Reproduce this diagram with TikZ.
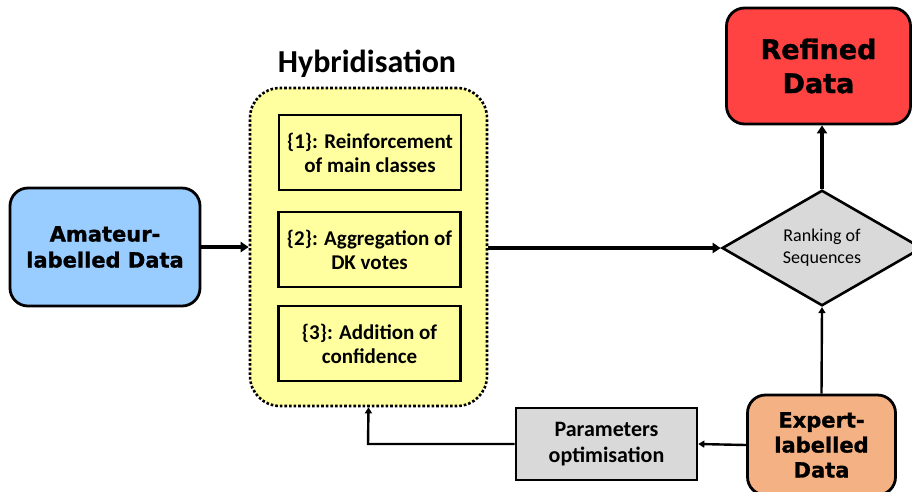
\documentclass[tikz,border=0pt]{standalone}
\usepackage{fontspec}
\setmainfont{Carlito}
\newfontfamily\heavyfont{DejaVu Sans}[BoldFont={DejaVu Sans Bold}, BoldFeatures={FakeBold=1.2}]
\usetikzlibrary{shapes.geometric,arrows.meta}
\definecolor{amablue}{HTML}{99CCFF}
\definecolor{hybyellow}{HTML}{FFFF9F}
\definecolor{refred}{HTML}{FF4343}
\definecolor{expor}{HTML}{F4B183}
\definecolor{lgrey}{HTML}{D9D9D9}
\tikzset{
  bigbox/.style={draw=black, line width=2.8pt, rounded corners=18pt, align=center, font=\heavyfont\bfseries\fontsize{21}{26}\selectfont},
  stepbox/.style={draw=black, line width=2.6pt, fill=hybyellow, minimum width=182pt, minimum height=75pt, align=center, font=\bfseries\fontsize{21}{24}\selectfont},
  greybox/.style={draw=black, line width=2.6pt, fill=lgrey, align=center},
  thickarrow/.style={line width=3.4pt, -{Triangle[length=8pt,width=10pt]}},
  thinarrow/.style={line width=2.4pt, -{Triangle[length=6pt,width=7pt]}}
}
\begin{document}
\begin{tikzpicture}[x=1pt,y=-1pt]
\useasboundingbox (0,0) rectangle (912,491);
% Hybridisation container
\node[draw=black, dotted, line width=2.6pt, fill=hybyellow, rounded corners=30pt, minimum width=237pt, minimum height=318pt] (hyb) at (368.5,247) {};
\node[font=\bfseries\fontsize{32}{34}\selectfont] (title) at (367,64) {Hybridisation};
\node[stepbox] (s1) at (370,152.5) {\{1\}: Reinforcement\\of main classes};
\node[stepbox] (s2) at (369.5,249.5) {\{2\}: Aggregation of\\DK votes};
\node[stepbox] (s3) at (369.5,343.5) {\{3\}: Addition of\\confidence};
% Amateur
\node[bigbox, fill=amablue, minimum width=190pt, minimum height=118pt] (ama) at (105,247) {Amateur-\\labelled Data};
% Diamond
\node[diamond, draw=black, line width=2.6pt, fill=lgrey, minimum width=200pt, minimum height=112pt, inner sep=0pt, font=\fontsize{18}{22}\selectfont, align=center] (rank) at (822,248) {Ranking of\\Sequences};
% Refined
\node[bigbox, fill=refred, minimum width=184pt, minimum height=116pt, font=\heavyfont\bfseries\fontsize{27}{34}\selectfont] (ref) at (818.5,66) {Refined\\Data};
% Expert
\node[bigbox, fill=expor, minimum width=148pt, minimum height=100pt, font=\heavyfont\bfseries\fontsize{21}{25}\selectfont] (exp) at (821.5,445) {Expert-\\labelled\\Data};
% Params
\node[greybox, minimum width=181pt, minimum height=72pt, font=\bfseries\fontsize{22}{26}\selectfont] (par) at (606.5,444) {Parameters\\optimisation};
% Connectors
\draw[thickarrow] (ama.east) -- (hyb.west);
\draw[thickarrow] (hyb.east |- rank.west) -- (rank.west);
\draw[thickarrow] (rank.north) -- (rank.north |- ref.south);
\draw[thinarrow] (exp.north) -- (rank.south);
\draw[thinarrow] (exp.west) -- (par.east);
\coordinate (bend) at (368,444);
\draw[thinarrow] (par.west) -- (bend) -- (hyb.south);
\end{tikzpicture}
\end{document}
